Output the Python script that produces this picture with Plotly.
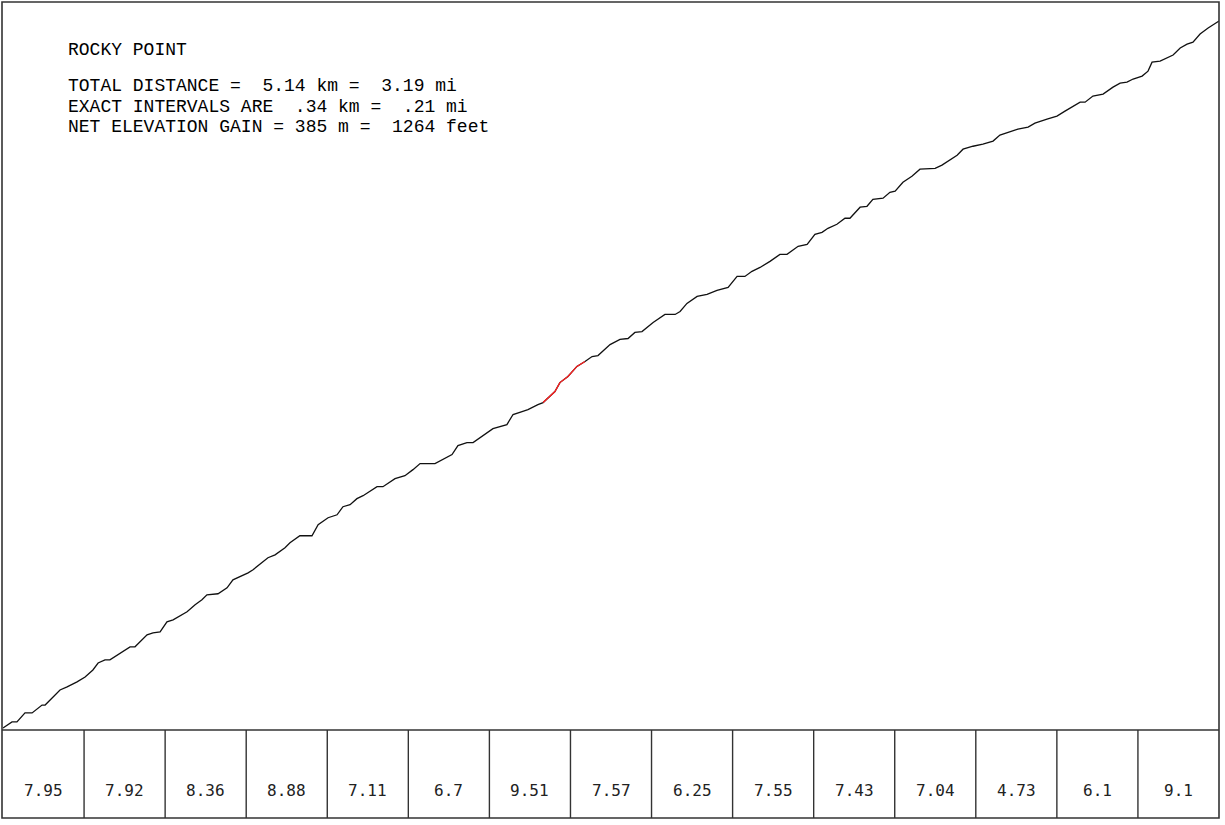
import plotly.graph_objects as go

# ---------------- data ----------------
trail_name = "ROCKY POINT"
total_km, total_mi = 5.14, 3.19
interval_km_label, interval_mi_label = ".34", ".21"
gain_m, gain_ft = 385, 1264

distance_km = [
    0.000, 0.038, 0.059, 0.093, 0.123, 0.165, 0.178, 0.207, 0.241, 0.271,
    0.313, 0.347, 0.380, 0.402, 0.431, 0.452, 0.503, 0.537, 0.558, 0.579,
    0.609, 0.634, 0.664, 0.693, 0.719, 0.778, 0.812, 0.841, 0.862, 0.909,
    0.947, 0.972, 1.002, 1.036, 1.057, 1.120, 1.150, 1.192, 1.213, 1.255,
    1.306, 1.332, 1.374, 1.412, 1.437, 1.467, 1.496, 1.522, 1.581, 1.606,
    1.657, 1.699, 1.733, 1.763, 1.826, 1.877, 1.898, 1.923, 1.961, 1.987,
    2.025, 2.071, 2.130, 2.156, 2.194, 2.219, 2.261, 2.283, 2.333, 2.354,
    2.388, 2.426, 2.460, 2.490, 2.515, 2.566, 2.608, 2.642, 2.671, 2.701,
    2.748, 2.798, 2.841, 2.862, 2.891, 2.934, 2.976, 3.018, 3.065, 3.103,
    3.136, 3.166, 3.200, 3.242, 3.284, 3.314, 3.361, 3.399, 3.432, 3.462,
    3.487, 3.525, 3.559, 3.580, 3.623, 3.652, 3.677, 3.720, 3.749, 3.771,
    3.804, 3.842, 3.876, 3.940, 3.969, 4.003, 4.033, 4.058, 4.100, 4.142,
    4.185, 4.214, 4.248, 4.290, 4.333, 4.362, 4.413, 4.455, 4.489, 4.523,
    4.553, 4.574, 4.607, 4.650, 4.692, 4.722, 4.751, 4.777, 4.815, 4.840,
    4.857, 4.891, 4.921, 4.946, 4.976, 5.005, 5.030, 5.060, 5.094, 5.123,
    5.140,
]
elevation_gain_m = [
    0.0, 3.3, 3.3, 8.2, 8.2, 12.5, 12.5, 16.4, 20.7, 22.4,
    25.1, 27.8, 31.6, 35.4, 37.1, 37.1, 41.4, 44.2, 44.2, 46.9,
    50.7, 51.8, 52.3, 57.8, 58.9, 63.3, 67.1, 69.8, 72.5, 73.1,
    76.3, 80.7, 82.3, 84.5, 86.2, 92.7, 94.3, 98.2, 100.9, 104.7,
    104.7, 110.7, 114.5, 116.1, 120.5, 121.6, 124.9, 126.5, 131.4, 131.4,
    135.8, 137.4, 140.7, 144.0, 144.0, 147.2, 148.9, 153.8, 155.4, 155.4,
    158.7, 163.0, 165.2, 170.7, 172.3, 173.4, 176.1, 177.2, 183.2, 188.1,
    191.4, 196.9, 199.6, 202.3, 202.8, 208.8, 211.6, 212.1, 215.4, 215.9,
    220.8, 225.2, 225.2, 226.8, 231.2, 235.0, 236.1, 238.3, 239.9, 245.9,
    245.9, 248.7, 250.8, 254.1, 257.9, 257.9, 262.3, 263.4, 268.8, 269.9,
    272.1, 274.3, 277.6, 277.6, 283.6, 284.1, 287.9, 288.5, 291.7, 292.3,
    297.2, 300.5, 304.3, 304.8, 306.5, 309.2, 311.9, 315.2, 316.8, 317.9,
    319.6, 322.9, 324.5, 326.1, 327.2, 329.4, 331.6, 333.2, 335.9, 338.6,
    340.8, 340.8, 344.1, 345.2, 349.0, 351.2, 351.7, 353.4, 355.0, 357.7,
    362.6, 363.2, 364.8, 366.5, 370.3, 372.4, 373.5, 377.9, 381.2, 383.4,
    385.0,
]
interval_grades = [7.95, 7.92, 8.36, 8.88, 7.11, 6.7, 9.51, 7.57,
                   6.25, 7.55, 7.43, 7.04, 4.73, 6.1, 9.1]
highlight_km = (2.283, 2.460)   # section drawn in red

# ---------------- layout helpers (pixel -> paper) ----------------
W, H = 1225, 825
px = lambda x: x / W
py = lambda y: 1 - y / H

FRAME_L, FRAME_R, FRAME_T, FRAME_B = 2, 1219, 2, 818
PLOT_L, PLOT_R, PLOT_T, PLOT_B = 3, 1219, 3, 730
ROW_TOP = 730

n_int = len(interval_grades)
interval = total_km / n_int

fig = go.Figure()
fig.add_trace(go.Scatter(x=distance_km, y=elevation_gain_m, mode="lines",
                         line=dict(color="#111111", width=1.3),
                         hoverinfo="skip", showlegend=False))
hx = [d for d in distance_km if highlight_km[0] <= d <= highlight_km[1]]
hy = [e for d, e in zip(distance_km, elevation_gain_m)
      if highlight_km[0] <= d <= highlight_km[1]]
fig.add_trace(go.Scatter(x=hx, y=hy, mode="lines",
                         line=dict(color="#ff2020", width=1.3),
                         hoverinfo="skip", showlegend=False))

shapes = [
    dict(type="rect", xref="paper", yref="paper",
         x0=px(FRAME_L), x1=px(FRAME_R), y0=py(FRAME_B), y1=py(FRAME_T),
         line=dict(color="#333333", width=1.6)),
    dict(type="line", xref="paper", yref="paper",
         x0=px(FRAME_L), x1=px(FRAME_R), y0=py(ROW_TOP), y1=py(ROW_TOP),
         line=dict(color="#333333", width=1.4)),
]
for i in range(1, n_int):
    shapes.append(dict(type="line", xref="x", yref="paper",
                       x0=i * interval, x1=i * interval,
                       y0=py(FRAME_B), y1=py(ROW_TOP),
                       line=dict(color="#333333", width=1.4)))

mono = "Liberation Mono, DejaVu Sans Mono, monospace"
annotations = []
header = [
    (50, trail_name),
    (86, f"TOTAL DISTANCE =  {total_km:.2f} km =  {total_mi:.2f} mi"),
    (106.5, f"EXACT INTERVALS ARE  {interval_km_label} km =  {interval_mi_label} mi"),
    (127, f"NET ELEVATION GAIN = {gain_m} m =  {gain_ft} feet"),
]
for y, t in header:
    annotations.append(dict(xref="paper", yref="paper", x=px(66), y=py(y),
                            xanchor="left", yanchor="middle", showarrow=False,
                            text=t.replace(" ", "\u00a0"),
                            font=dict(family=mono, size=18, color="#000000")))
for i, g in enumerate(interval_grades):
    annotations.append(dict(xref="x", yref="paper", x=(i + 0.5) * interval,
                            y=py(790), xanchor="center", yanchor="middle",
                            showarrow=False, text=f"{g:g}",
                            font=dict(family="DejaVu Sans Mono, monospace",
                                      size=16, color="#222222")))

# y range so that 0 m sits at pixel 728 and 385 m at pixel ~21
m_per_px = gain_m / (728 - 21)
y_lo = -(PLOT_B - 728) * m_per_px
y_hi = (728 - PLOT_T) * m_per_px

fig.update_layout(
    width=W, height=H, margin=dict(l=0, r=0, t=0, b=0),
    paper_bgcolor="white", plot_bgcolor="white",
    xaxis=dict(domain=[px(PLOT_L), px(PLOT_R)], range=[0, total_km],
               visible=False, fixedrange=True),
    yaxis=dict(domain=[py(PLOT_B), py(PLOT_T)], range=[y_lo, y_hi],
               visible=False, fixedrange=True),
    shapes=shapes, annotations=annotations, showlegend=False,
)
fig.write_html("out.html", config=dict(displayModeBar=False),
               post_script="document.body.style.margin='0';"
                           "document.body.style.overflow='hidden';")
